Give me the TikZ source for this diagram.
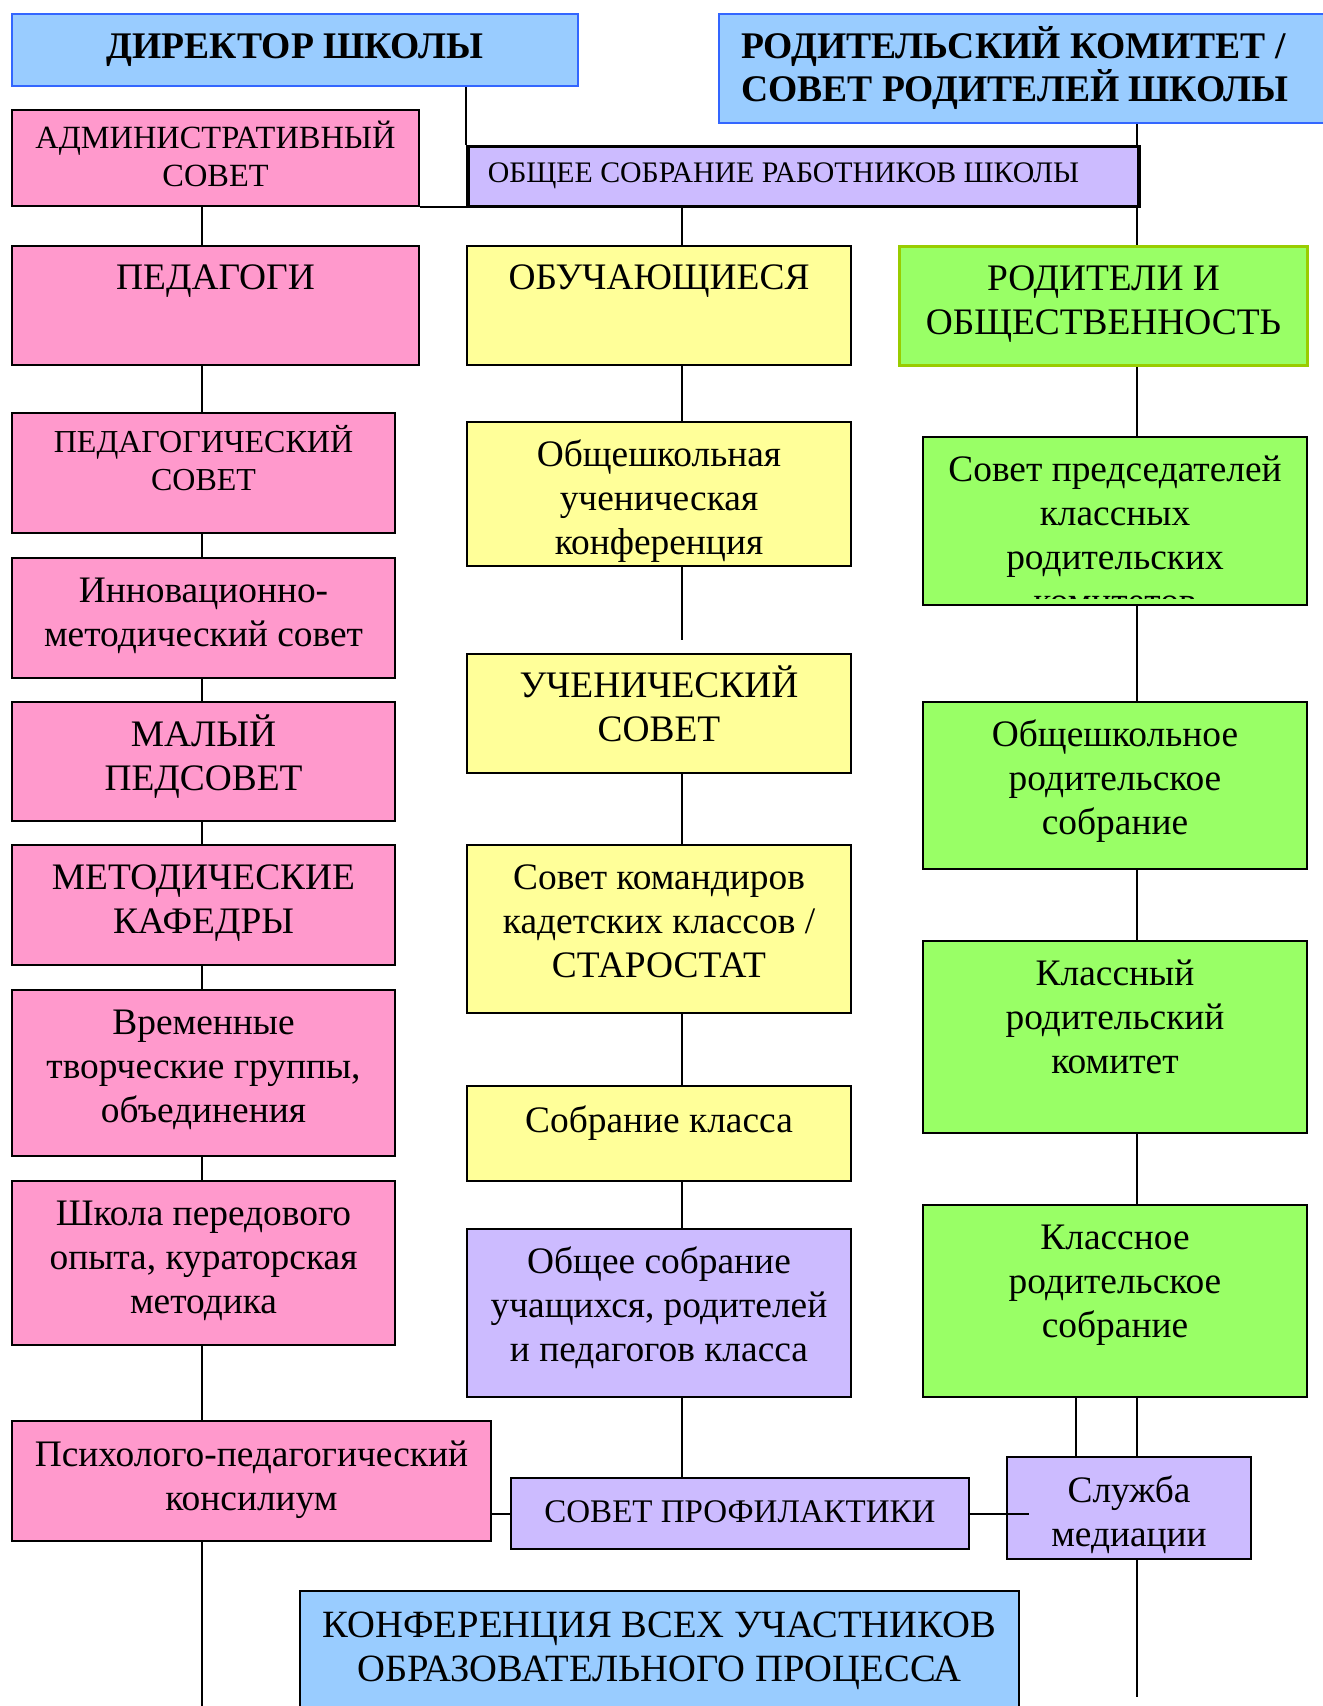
\documentclass[tikz,border=0pt]{standalone}
\usepackage{fontspec}
\setmainfont{Liberation Serif}
\usetikzlibrary{positioning}

\definecolor{headblue}{RGB}{153,204,255}
\definecolor{edgeblue}{RGB}{51,102,255}
\definecolor{pinkfill}{RGB}{255,153,204}
\definecolor{lilacfill}{RGB}{204,187,255}
\definecolor{yellowfill}{RGB}{255,255,153}
\definecolor{greenfill}{RGB}{153,255,102}
\definecolor{edgegreen}{RGB}{153,204,0}

\begin{document}
\begin{tikzpicture}[x=0.5pt, y=-0.5pt,
    box/.style={draw=black, line width=1pt, inner xsep=2pt, inner ysep=0pt, align=flush center, anchor=north west, font=\fontsize{18.7}{22}\selectfont},
    wh/.style n args={3}{minimum width=#1*0.5pt, text width=#1*0.5pt-4pt, text height=#3pt, text depth=#2*0.5pt-#3pt},
    head/.style={box, fill=headblue, draw=edgeblue, font=\bfseries\fontsize{18.8}{21.2}\selectfont},
    pink/.style={box, fill=pinkfill},
    lilac/.style={box, fill=lilacfill},
    yellow/.style={box, fill=yellowfill},
    green/.style={box, fill=greenfill},
    link/.style={draw=black, line width=1pt}]

\useasboundingbox (0,0) rectangle (1322,1706);

% top
\node[head, wh={566}{72}{22.5}] (dir) at (11,13) {ДИРЕКТОР ШКОЛЫ};
\node[head, wh={608}{109}{22.5}, align=flush left, inner xsep=11pt] (parent) at (718,13) {РОДИТЕЛЬСКИЙ КОМИТЕТ /\\СОВЕТ РОДИТЕЛЕЙ ШКОЛЫ};
\node[pink, wh={407}{96}{19.5}, font=\fontsize{16.2}{19}\selectfont] (admin) at (11,109) {АДМИНИСТРАТИВНЫЙ\\СОВЕТ};
\node[lilac, wh={671}{60}{18}, line width=1.75pt, inner xsep=10pt, text width=315.5pt, align=flush left, font=\fontsize{14.9}{17}\selectfont] (staff) at (466,145) {ОБЩЕЕ СОБРАНИЕ РАБОТНИКОВ ШКОЛЫ};

% three groups
\node[pink, wh={407}{119}{22}] (teach) at (11,245) {ПЕДАГОГИ};
\node[yellow, wh={384}{119}{22}] (learn) at (466,245) {ОБУЧАЮЩИЕСЯ};
\node[green, draw=edgegreen, line width=1.5pt, wh={408}{119}{22}] (public) at (898,245) {РОДИТЕЛИ И\\ОБЩЕСТВЕННОСТЬ};

% teachers
\node[pink, wh={383}{120}{19.5}, font=\fontsize{16}{19}\selectfont] (pedsov) at (11,412) {ПЕДАГОГИЧЕСКИЙ\\СОВЕТ};
\node[pink, wh={383}{120}{22}] (innov) at (11,557) {Инновационно-\\методический совет};
\node[pink, wh={383}{119}{22}] (small) at (11,701) {МАЛЫЙ\\ПЕДСОВЕТ};
\node[pink, wh={383}{120}{22}] (chairs) at (11,844) {МЕТОДИЧЕСКИЕ\\КАФЕДРЫ};
\node[pink, wh={383}{166}{22}] (groups) at (11,989) {Временные\\творческие группы,\\объединения};
\node[pink, wh={383}{164}{22}] (school) at (11,1180) {Школа передового\\опыта, кураторская\\методика};
\node[pink, wh={479}{120}{22.5}] (psych) at (11,1420) {Психолого-педагогический\\консилиум};

% students
\node[yellow, wh={384}{144}{22}] (conf) at (466,421) {Общешкольная\\ученическая\\конференция};
\node[yellow, wh={384}{119}{21.5}] (council) at (466,653) {УЧЕНИЧЕСКИЙ\\СОВЕТ};
\node[yellow, wh={384}{168}{22}] (cadets) at (466,844) {Совет командиров\\кадетских классов /\\СТАРОСТАТ};
\node[yellow, wh={384}{95}{23}] (classmeet) at (466,1085) {Собрание класса};
\node[lilac, wh={384}{168}{22}] (joint) at (466,1228) {Общее собрание\\учащихся, родителей\\и педагогов класса};
\node[lilac, wh={458}{71}{22}, font=\fontsize{16.5}{20}\selectfont] (prevent) at (510,1477) {СОВЕТ ПРОФИЛАКТИКИ};

% parents
\node[green, wh={384}{168}{22}, path picture={
    \clip ([yshift=3.5pt]path picture bounding box.south west) rectangle (path picture bounding box.north east);
    \node[anchor=base, align=flush center, inner sep=0pt, minimum width=0pt, text width=188pt, text height=, text depth=] (headstext)
      at ([yshift=-22pt]path picture bounding box.north) {Совет председателей\\классных\\родительских\\комитетов};
  }] (heads) at (922,436) {};
\node[green, wh={384}{167}{22}] (schpar) at (922,701) {Общешкольное\\родительское\\собрание};
\node[green, wh={384}{192}{22}] (clcom) at (922,940) {Классный\\родительский\\комитет};
\node[green, wh={384}{192}{22}] (clpar) at (922,1204) {Классное\\родительское\\собрание};
\node[lilac, wh={244}{102}{22.5}] (mediate) at (1006,1456) {Служба\\медиации};

\node[box, fill=headblue, wh={719}{120}{23}, font=\fontsize{19.3}{22}\selectfont] (all) at (299,1590) {КОНФЕРЕНЦИЯ ВСЕХ УЧАСТНИКОВ\\ОБРАЗОВАТЕЛЬНОГО ПРОЦЕССА};

% spines
\coordinate (lx) at (202,0);
\coordinate (mx) at (682,0);
\coordinate (rx) at (1137,0);
\coordinate (sx) at (1076,0);
\coordinate (gapend) at (682,640);
\coordinate (leftend) at (202,1706);
\coordinate (rightend) at (1137,1697);

\draw[link] (staff.north west |- dir.south) -- (staff.north west);
\draw[link] (rx |- parent.south) -- (rx |- staff.north);
\draw[link] (admin.south east) -- (admin.south east -| staff.west);
\draw[link] (lx |- admin.south) -- (lx |- teach.north);
\draw[link] (mx |- staff.south) -- (mx |- learn.north);
\draw[link] (rx |- staff.south) -- (rx |- public.north);

\foreach \a/\b in {teach/pedsov, pedsov/innov, innov/small, small/chairs, chairs/groups, groups/school, school/psych}
  \draw[link] (lx |- \a.south) -- (lx |- \b.north);
\draw[link] (lx |- psych.south) -- (leftend);

\draw[link] (mx |- learn.south) -- (mx |- conf.north);
\draw[link] (mx |- conf.south) -- (gapend);
\foreach \a/\b in {council/cadets, cadets/classmeet, classmeet/joint, joint/prevent}
  \draw[link] (mx |- \a.south) -- (mx |- \b.north);

\foreach \a/\b in {public/heads, heads/schpar, schpar/clcom, clcom/clpar, clpar/mediate}
  \draw[link] (rx |- \a.south) -- (rx |- \b.north);
\draw[link] (sx |- clpar.south) -- (sx |- mediate.north);
\draw[link] (rx |- mediate.south) -- (rightend);

\draw[link] (psych.east |- prevent.west) -- (prevent.west);
\draw[link] (prevent.east) -- ([xshift=11.5pt]prevent.east -| mediate.west);
\end{tikzpicture}
\end{document}
